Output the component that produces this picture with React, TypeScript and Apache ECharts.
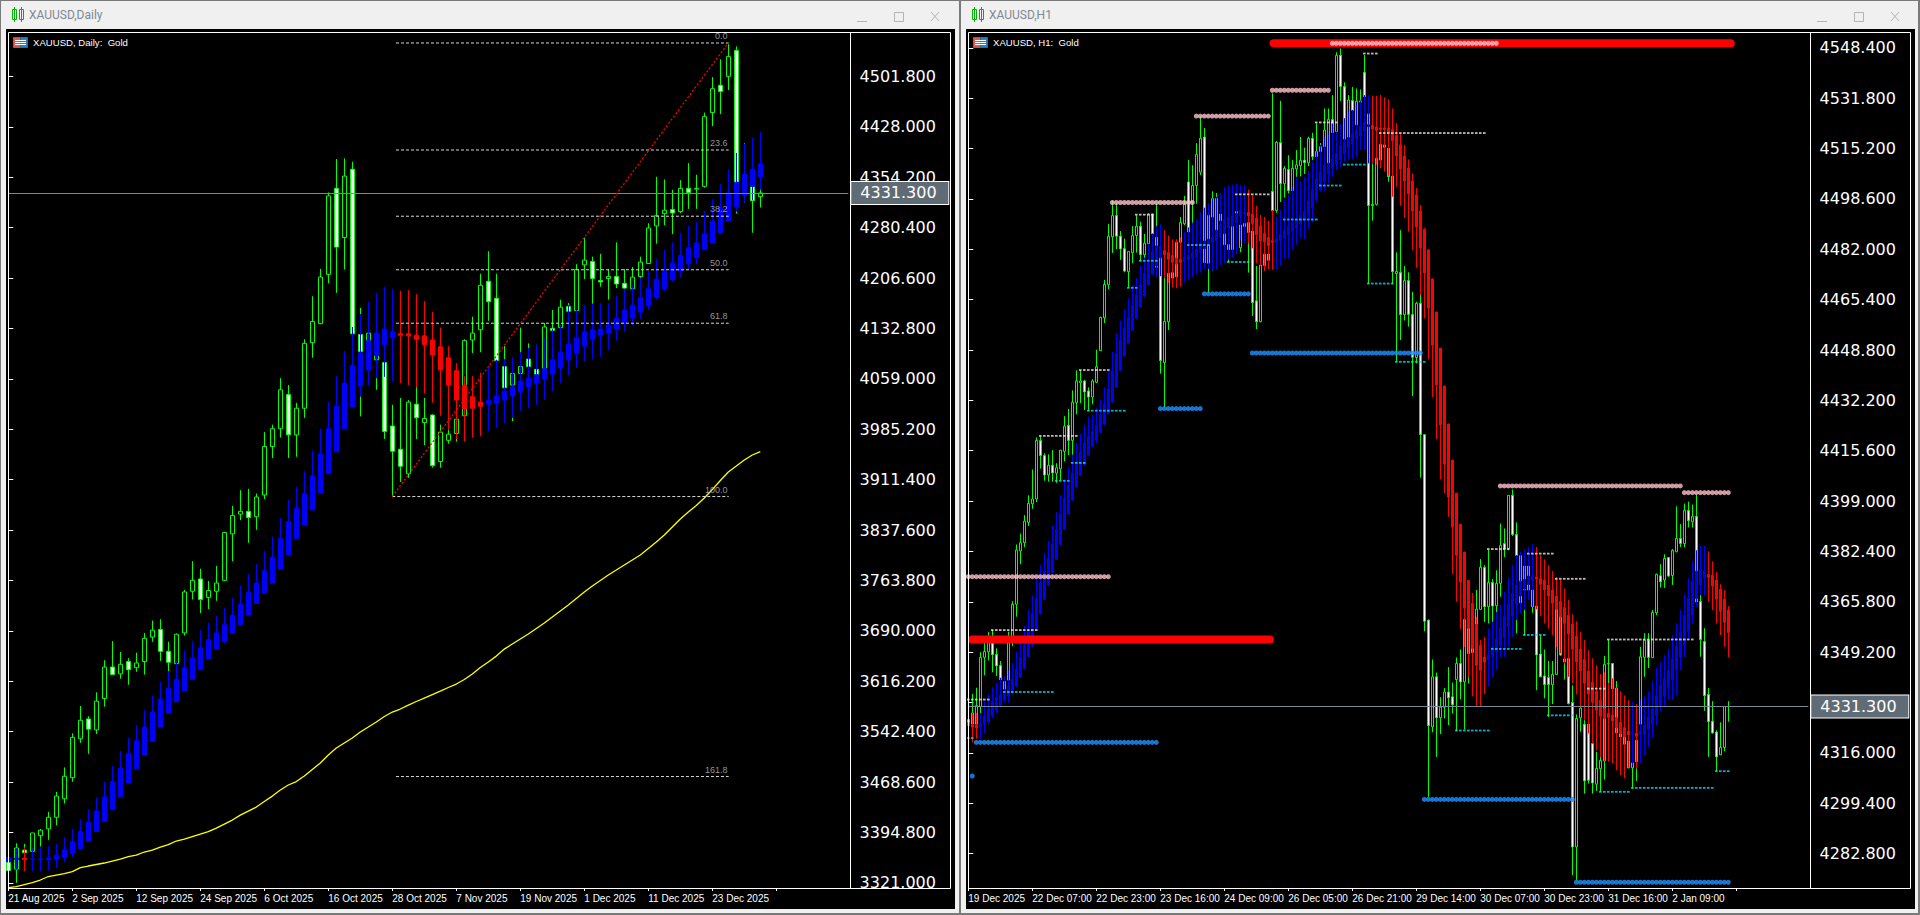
import React, { useEffect, useRef } from "react";
import * as echarts from "echarts";

// ---------- tick labels ----------
const dailyPriceTicks = [4501.8, 4428, 4354.2, 4280.4, 4206.6, 4132.8, 4059, 3985.2, 3911.4, 3837.6, 3763.8, 3690, 3616.2, 3542.4, 3468.6, 3394.8, 3321];
const hourlyPriceTicks = [4548.4, 4531.8, 4515.2, 4498.6, 4482, 4465.4, 4448.8, 4432.2, 4415.6, 4399, 4382.4, 4365.8, 4349.2, 4332.6, 4316, 4299.4, 4282.8];
const hourlyPriceLabels = [4548.4, 4531.8, 4515.2, 4498.6, 4482, 4465.4, 4448.8, 4432.2, 4415.6, 4399, 4382.4, 4365.8, 4349.2, 4316, 4299.4, 4282.8];
const dailyTimeLabels = ["21 Aug 2025", "2 Sep 2025", "12 Sep 2025", "24 Sep 2025", "6 Oct 2025", "16 Oct 2025", "28 Oct 2025", "7 Nov 2025", "19 Nov 2025", "1 Dec 2025", "11 Dec 2025", "23 Dec 2025"];
const hourlyTimeLabels = ["19 Dec 2025", "22 Dec 07:00", "22 Dec 23:00", "23 Dec 16:00", "24 Dec 09:00", "26 Dec 05:00", "26 Dec 21:00", "29 Dec 14:00", "30 Dec 07:00", "30 Dec 23:00", "31 Dec 16:00", "2 Jan 09:00"];
const lastPrice = 4331.3;

// ---------- daily: [open, high, low, close] ----------
const dailyCandles = [
[3351,3355,3339,3339],[3341,3379,3321,3372],[3369,3378,3364,3365],[3367,3394,3366,3394],[3390,3400,3374,3398],[3400,3425,3384,3417],[3417,3454,3405,3448],[3444,3490,3437,3477],[3475,3540,3469,3534],[3532,3580,3526,3559],
[3561,3565,3510,3546],[3545,3600,3539,3587],[3591,3647,3579,3637],[3637,3675,3626,3626],[3627,3659,3620,3641],[3645,3650,3611,3633],[3636,3658,3630,3643],[3645,3687,3626,3679],[3681,3705,3674,3691],[3692,3707,3646,3660],
[3660,3674,3631,3644],[3642,3686,3641,3685],[3687,3750,3683,3747],[3748,3792,3736,3764],[3766,3781,3716,3736],[3739,3763,3722,3749],[3748,3785,3734,3760],[3764,3835,3763,3834],[3832,3873,3792,3859],[3861,3896,3852,3865],
[3865,3898,3819,3856],[3857,3891,3838,3886],[3889,3981,3883,3960],[3960,3992,3943,3986],[3986,4060,3973,4043],[4036,4050,3943,3977],[3977,4024,3945,4016],[4016,4117,4002,4111],[4112,4180,4090,4143],[4140,4220,4139,4208],
[4212,4332,4199,4327],[4338,4381,4185,4252],[4266,4382,4219,4356],[4366,4377,4124,4125],[4124,4163,4004,4099],[4115,4127,4060,4126],[4087,4126,4043,4121],[4083,4084,3971,3982],[3990,4021,3887,3953],[3956,4031,3908,3931],
[3920,4028,3914,4025],[4022,4047,3971,4002],[3995,4031,3962,4001],[4006,4007,3929,3932],[3938,3992,3929,3981],[3969,3989,3964,3978],[3979,4014,3967,4000],[4005,4117,4005,4115],[4116,4150,4097,4126],[4131,4213,4098,4196],
[4202,4246,4144,4172],[4177,4213,4086,4086],[4077,4107,4046,4046],[4050,4087,3997,4067],[4067,4134,4048,4077],[4088,4111,4077,4077],[4073,4109,4065,4065],[4074,4141,4073,4135],[4133,4160,4116,4130],[4134,4175,4134,4164],
[4165,4170,4151,4158],[4159,4227,4159,4219],[4226,4266,4205,4233],[4231,4238,4169,4206],[4203,4242,4194,4201],[4206,4220,4175,4209],[4209,4259,4192,4198],[4199,4220,4179,4192],[4191,4223,4191,4208],[4209,4238,4199,4230],
[4228,4287,4228,4280],[4283,4355,4257,4298],[4301,4351,4284,4306],[4307,4336,4271,4302],[4304,4350,4302,4338],[4338,4375,4308,4332],[4337,4358,4308,4338],[4341,4449,4339,4443],[4449,4501,4429,4484],[4489,4527,4447,4480],
[4502,4549,4482,4531],[4540,4546,4301,4340],[4340,4404,4317,4345],[4341,4341,4273,4320],[4326,4340,4310,4331.3],
];
const dailyTrend = [
[3352,3362,3339,3358],[3355,3372,3340,3357],[3357,3373,3338,3355],[3355,3372,3338,3356],[3355,3374,3338,3356],[3355,3375,3339,3357],[3356,3378,3343,3361.5],[3358,3388,3351,3369],[3364,3400,3359,3381],[3371,3414,3371,3396],
[3382,3429,3382,3410],[3396,3446,3396,3426],[3411,3469,3411,3447],[3428,3492,3428,3469],[3447,3514,3447,3489],[3467,3533,3467,3510],[3488,3552,3488,3529],[3508,3574,3508,3549],[3528,3595,3528,3571],[3549,3615,3549,3590],
[3569,3631,3569,3606],[3586,3646,3586,3619],[3602,3661,3602,3636],[3619,3675,3619,3650],[3633,3691,3633,3665],[3649,3702,3649,3677],[3663,3712,3663,3687],[3674,3724,3672,3699],[3686,3738,3686,3713],[3699,3756,3699,3729],
[3713,3773,3713,3746],[3730,3788,3730,3760],[3745,3807,3745,3778],[3760,3828,3760,3798],[3780,3855,3780,3825],[3801,3882,3801,3850],[3825,3901,3825,3869],[3845,3924,3845,3891],[3867,3954,3867,3917],[3892,3986,3892,3949],
[3920,4025,3920,3986],[3952,4063,3952,4019],[3986,4100,3986,4053],[4018,4135,4018,4079],[4049,4154,4033,4097],[4072,4172,4049,4115],[4093,4185,4060,4126],[4109,4194,4062,4132],[4119,4191,4055,4128],[4125,4188,4053,4123],
[4125,4189,4050,4122],[4123,4183,4047,4117],[4122,4173,4038,4109],[4116,4157,4024,4094],[4106,4134,4005,4072],[4090,4107,3984,4050],[4071,4082,3971,4028],[4050,4063,3967,4015],[4033,4063,3973,4016],[4025,4068,3975,4019],
[4022,4075,3983,4028],[4023,4087,3987,4034],[4028,4088,3994,4041],[4034,4091,4002,4047],[4040,4098,4012,4056],[4047,4104,4016,4060],[4053,4109,4021,4065],[4059,4119,4028,4074],[4066,4132,4041,4087],[4075,4138,4053,4098],
[4087,4167,4064,4110],[4097,4160,4075,4119],[4107,4167,4084,4128],[4117,4169,4088,4131],[4123,4170,4091,4132],[4126,4170,4101,4138],[4132,4180,4115,4148],[4141,4191,4128,4160],[4148,4197,4138,4167],[4157,4207,4147,4178],
[4166,4217,4160,4191],[4178,4235,4175,4205],[4191,4248,4188,4217],[4204,4259,4201,4229],[4217,4273,4208,4240],[4228,4283,4220,4251],[4237,4289,4227,4258],[4248,4305,4248,4271],[4258,4322,4258,4290],[4273,4344,4273,4310],
[4290,4366,4290,4331],[4311,4390,4304,4347],[4328,4403,4317,4359],[4341,4412,4321,4366],[4355,4421,4336,4374],
];
const dailyMovingAverage = [3314.1,3315.5,3318.5,3321.4,3325.1,3330.2,3332.4,3334.6,3337.5,3343.3,3345.6,3347.8,3350,3352.9,3355.8,3359.5,3361.7,3366.1,3369,3373.4,3377,3382.2,3385.1,3388.8,3392.4,3396.1,3401.2,3407,3412.9,3420.2,3426.1,3431.9,3440,3448,3456.9,3464.2,3469.3,3477.4,3486.9,3496.4,3508.1,3518.4,3525.7,3533,3541.8,3549.1,3556.5,3564.5,3571.1,3575.5,3581.3,3586.5,3591.6,3596.7,3601.8,3607,3612.1,3618.7,3626.7,3636.2,3644.3,3653,3663.3,3670.7,3678,3685.3,3693.4,3701.4,3710.2,3719,3727.8,3737.3,3746.8,3755.6,3763.7,3771.7,3779,3786.4,3793.7,3801,3810.5,3820,3830.3,3842,3853.7,3864,3873.5,3884.5,3896.9,3910.1,3922.6,3931.3,3940.1,3947.5,3952.6];
const fibLevels: [string, number][] = [["0.0",4550.9],["23.6",4394.2],["38.2",4297.2],["50.0",4218.8],["61.8",4140.5],["100.0",3886.7],["161.8",3476.6]];

// ---------- hourly: [open, high, low, close] ----------
const hourlyCandles = [
[4325.5,4328,4321,4327],[4325.5,4335.5,4324.3,4329.2],[4325.5,4337.5,4324.9,4331.6],[4331.3,4349.2,4328.6,4347.5],[4347.5,4352.4,4341.6,4349.4],[4349.3,4355.8,4346.5,4354.2],[4352.4,4356.6,4342.6,4348.4],[4348.5,4350.5,4341.4,4344.7],[4344.8,4346.3,4337.7,4340.2],[4337,4340.2,4335.3,4339.6],
[4340,4356,4337.7,4352.4],[4352.4,4366,4351.2,4365],[4365,4384.7,4360.9,4382.9],[4382.6,4388.3,4378.2,4385.3],[4385.3,4394.4,4383.8,4392.4],[4392,4400.9,4390.8,4398.2],[4398.1,4409.4,4396.5,4399.7],[4399.7,4420,4398.7,4419],[4419,4420.3,4409.7,4414],[4414,4414.8,4405.7,4407.6],
[4407.6,4414.4,4405.4,4410.8],[4410.8,4415.8,4405.4,4408.3],[4408.2,4411.5,4405,4410],[4409.6,4415.8,4405.8,4415.8],[4415.4,4427,4412.1,4423.7],[4424,4429.4,4414.2,4419],[4419,4435.5,4414,4431.6],[4431.4,4442.1,4427.6,4438.6],[4438,4442.1,4431.3,4438.6],[4438.6,4439,4429,4435],
[4435.3,4436.5,4428.7,4433.3],[4433.3,4439.2,4430.9,4438.6],[4438.2,4448.9,4437.9,4443.3],[4448.6,4459.7,4448.5,4459.6],[4459.4,4471.9,4457.7,4470.4],[4470.3,4490.4,4468.8,4486.3],[4486.1,4498.1,4480.8,4493.1],[4493.1,4497.2,4482,4486.3],[4486.3,4488,4478.5,4482.1],[4482.2,4485.5,4474.4,4474.8],
[4474.6,4481.3,4469.2,4481.3],[4480.9,4489.6,4477.4,4486.5],[4486.5,4493.2,4480.9,4489.6],[4489.6,4491.1,4478,4480.2],[4480.2,4487.1,4476.5,4484],[4483.8,4493.8,4480.7,4493.6],[4493.6,4493.8,4487,4487.1],[4476.1,4496.9,4472.9,4485.9],[4479.2,4479.3,4441,4445.3],[4444.6,4474.3,4429.8,4458.2],
[4458.1,4474.2,4455.4,4474.1],[4472.5,4475,4472,4474.3],[4472.9,4484.4,4472.8,4484.3],[4484.3,4492.6,4484,4490.8],[4490.4,4499.6,4490,4496.9],[4504.2,4511.5,4487,4487.7],[4497.5,4509.7,4490.4,4503],[4503,4517,4497,4513.2],[4507.4,4525.7,4506.5,4518.6],[4519,4522,4477,4477.6],
[4477.4,4494,4467.6,4493.2],[4492.6,4501.1,4474.9,4498.7],[4498.7,4500.5,4488.2,4488.3],[4491.4,4495,4487.7,4493.6],[4488.3,4493.6,4483.1,4483.5],[4483.5,4492.6,4477.7,4481.9],[4481.9,4492.6,4481.6,4492],[4491.4,4497.5,4490.2,4494.4],[4482.5,4495,4481,4490],[4489.5,4494,4487,4490.5],
[4487.5,4490.8,4474.3,4490.8],[4488,4488.1,4460,4464.4],[4465,4476.5,4455.7,4458.1],[4458.1,4477,4458,4476.8],[4476.6,4480.5,4475,4480.4],[4480.4,4480.6,4478,4478.4],[4501.1,4533.4,4493.8,4494.7],[4494.8,4517.7,4494,4517.3],[4517.2,4530.9,4497.6,4503.6],[4503.6,4509.4,4499,4508.7],
[4508.3,4513,4500.4,4501.3],[4501.3,4511.4,4501,4508.7],[4508.5,4514.7,4505,4509.8],[4509.5,4519,4506,4511.3],[4511.4,4515.5,4506.8,4510.5],[4510.5,4519.1,4509.4,4518.6],[4518.6,4520.4,4511.4,4512.5],[4512.5,4523.5,4512,4514.2],[4514.2,4517,4510.3,4515.8],[4515.8,4528.4,4515.3,4521.3],
[4510.3,4528.4,4510,4524.8],[4524.8,4532.8,4519.4,4520.5],[4520.8,4546.9,4520.1,4545.9],[4545.9,4548.2,4530.9,4535.6],[4535.6,4537,4518.2,4518.3],[4518.3,4532.8,4518,4531.2],[4531,4535.5,4523,4527.8],[4523,4535,4523,4530.8],[4530.5,4534.7,4523,4530.9],[4540.3,4546,4526.2,4532.3],
[4526.6,4526.7,4470.5,4496.4],[4496.4,4510.3,4491.4,4496.8],[4496.8,4512,4496.4,4512],[4511.4,4516.7,4508.7,4516.6],[4515.6,4516.5,4515,4516.4],[4515.3,4515.4,4504.3,4505.9],[4506.1,4506.2,4470.5,4474.6],[4474,4481,4445,4474.7],[4474.4,4488.3,4452.1,4460.4],[4460.4,4476.5,4458.5,4471.7],
[4471.7,4474.4,4456.5,4460.5],[4460.5,4468,4433.6,4446.4],[4446.3,4464.7,4444.4,4464.2],[4464.2,4467.5,4406.7,4420.9],[4420.9,4421,4356.1,4359.4],[4359.8,4359.9,4301.5,4325],[4324.6,4346.8,4322.8,4341.1],[4341.1,4342.5,4314.7,4327.6],[4327.6,4334.4,4322.2,4331.1],[4331.1,4337.4,4327.4,4336.1],
[4336.1,4344.3,4325.2,4334.2],[4334.5,4339.2,4329,4331.9],[4340.2,4347.5,4323.2,4345.5],[4345.5,4350.1,4333.7,4339.4],[4339.4,4360.1,4323.7,4360],[4360,4368.6,4338.9,4348.8],[4349,4368.6,4340,4357],[4358.4,4369.7,4357.6,4363.4],[4363.3,4379.9,4363.1,4377.2],[4377.1,4377.9,4359.2,4364.2],
[4364.2,4383,4358.7,4372.2],[4372.2,4373.3,4359.2,4364.4],[4364.5,4376.2,4359.8,4371.9],[4371.9,4391.6,4367.5,4384.4],[4385,4390,4380.6,4383.2],[4383.4,4401,4382.8,4400.9],[4400.9,4402.8,4387.5,4388],[4388,4392,4355.4,4381.1],[4381,4381.1,4365,4365.5],[4369.7,4378,4354.8,4377.6],
[4377.6,4378,4369,4369.7],[4369.7,4370,4362.2,4364.2],[4364.4,4364.5,4336.7,4348.3],[4348.6,4354.8,4341,4341.1],[4341.4,4350.1,4334,4338.5],[4340.9,4346.3,4327.9,4338.5],[4338.5,4346.3,4332.1,4341.9],[4341.9,4364.2,4341.8,4363.6],[4362,4362.1,4348,4348.3],[4346,4348,4340.2,4347],
[4347.1,4347.5,4332,4332.3],[4332.6,4338.3,4275.7,4285],[4285,4328.7,4274,4327.4],[4327.6,4331,4323,4330.8],[4325.5,4331.2,4302.6,4306.8],[4325.5,4325.6,4305.9,4307],[4319.1,4321.3,4302.6,4306.1],[4305.7,4316.4,4303.5,4310.9],[4310.8,4314.7,4303.2,4313.5],[4313.4,4348,4307.2,4345.2],
[4345.3,4353.2,4338.9,4345.5],[4345.5,4345.6,4335.6,4337.2],[4337.4,4339.7,4321.3,4322.6],[4322.4,4322.6,4321,4321.3],[4321.3,4321.4,4318.8,4318.9],[4311.1,4320,4311,4319.9],[4311.1,4320.2,4304.3,4312.7],[4313.1,4320.3,4306.8,4320.2],[4325.5,4351,4325.2,4347.7],[4347.5,4355.5,4341.1,4353.2],
[4353.2,4355.5,4344,4347.5],[4347.4,4363.1,4347.3,4362.3],[4362.2,4375.1,4361.4,4374.9],[4374.4,4378.2,4370.5,4372.4],[4373,4381.5,4370.4,4380.1],[4380.4,4380.5,4374,4374.3],[4374.5,4383.2,4371.4,4382.8],[4382.3,4397.3,4382.2,4386.7],[4386.7,4391.4,4383.9,4385],[4385,4398.2,4383.7,4396],
[4396,4398.8,4390.3,4392.5],[4392.2,4397.9,4390.3,4394],[4394,4401,4365,4365.8],[4365.9,4369.1,4347.7,4353.4],[4352.7,4357.1,4329.9,4334.9],[4335.3,4337.4,4314.7,4326.3],[4326.4,4333.1,4322.4,4322.6],[4322.9,4323.5,4310,4314.7],[4315.4,4326.1,4315.3,4317.8],[4317.8,4331.3,4316.6,4331.3],
[4331.2,4333.1,4326.3,4331.3],
];
const hourlyTrend = [
[4326,4331,4321,4325],[4325.4,4329.2,4319.4,4324.5],[4325.2,4329.2,4320.7,4324.2],[4324.3,4329.2,4320.7,4325.8],[4325.3,4332.9,4322.5,4328.2],[4326.3,4335.3,4325.5,4330.7],[4328.2,4337.7,4327.4,4332.9],[4330.2,4339.2,4329.2,4334.3],[4331.6,4340.8,4331,4335.3],[4333.5,4341.2,4332.6,4336.8],
[4334.7,4343.2,4332.6,4338],[4336,4345.7,4335.3,4340.4],[4338,4349.3,4337.7,4343.6],[4340.9,4353.6,4340.9,4347.5],[4343.8,4357.9,4343.8,4351.8],[4347.8,4363.1,4347.8,4356],[4351.2,4368,4351.2,4361.9],[4357,4373.1,4357,4367],[4361.8,4378,4361.8,4371.9],[4366.6,4381.9,4366.6,4375.8],
[4371.3,4385.9,4371.3,4380.2],[4375.5,4390.8,4375.5,4384.8],[4379.8,4395.3,4379.8,4389.6],[4384.7,4400.9,4384.7,4394.7],[4389.8,4406,4389.8,4399.9],[4394.7,4410.3,4394.7,4404.2],[4399.3,4414.3,4399.3,4408.2],[4403.6,4418,4403.6,4412.1],[4407.5,4421.3,4407.5,4415.2],[4410.9,4424.1,4410.9,4418.2],
[4414.1,4426.8,4414.1,4420.4],[4417,4427.4,4417,4421.9],[4419.2,4429.8,4418,4424.1],[4421.6,4432.6,4421.6,4427.4],[4424.3,4436.5,4424.3,4431],[4427.7,4442,4427.7,4435.9],[4431.6,4448.1,4431.6,4442],[4436.5,4454.2,4436.5,4447.5],[4442,4458.5,4442,4452],[4446.8,4462.1,4446.8,4456],
[4451,4465.8,4451,4459.7],[4455.3,4470,4455.3,4463.3],[4459.2,4472.5,4459.2,4467],[4462.9,4476.5,4462.9,4470.4],[4466.5,4479.2,4466.5,4474.1],[4470.2,4483.8,4470.2,4477.7],[4473.8,4487.1,4473.8,4481],[4476.5,4489.6,4472.9,4483.1],[4479.2,4490.2,4473.1,4483.1],[4481.6,4488.3,4472.5,4480.2],
[4481,4486.5,4470.9,4478.7],[4480,4485.3,4469.4,4477.7],[4479.1,4485.3,4469.1,4477.1],[4478.6,4485.9,4469.7,4477.7],[4478,4487.7,4471,4479.4],[4478.5,4489.2,4471.9,4480],[4479,4490.8,4472.9,4480.8],[4479.4,4492,4473.7,4482],[4481,4494.1,4474.3,4484.1],[4482.2,4495.7,4475.5,4484.7],
[4483.5,4497.2,4475.5,4485.3],[4484.3,4498.7,4474.9,4485.9],[4484.7,4499.3,4475.5,4488.3],[4485.9,4500.5,4476.8,4490.2],[4487.1,4502.4,4477.4,4492],[4489,4503,4478.6,4492.6],[4489.6,4503.3,4479.2,4493.2],[4490.8,4503.6,4480.4,4493.8],[4492.7,4503.2,4485,4494.9],[4493.6,4503.2,4484,4494.1],
[4494.1,4501.7,4484,4493],[4493.6,4499.7,4482.3,4490.5],[4492.3,4496.3,4477.4,4486.7],[4489.7,4493.3,4476.5,4484.7],[4487.2,4492.7,4474.9,4484.4],[4485.9,4491.4,4475.4,4483.1],[4484.8,4494.9,4475.2,4484.2],[4484.2,4492.7,4475.4,4485.4],[4484.8,4494.9,4476.5,4487],[4485.6,4498.2,4478.9,4488.3],
[4486.7,4499.9,4478.9,4489.7],[4487.9,4502.6,4482,4490.8],[4488.9,4505.9,4483.6,4491.6],[4490.3,4504.3,4485.6,4493.3],[4491.6,4505.9,4485.3,4494.6],[4493.2,4507.8,4488.7,4498],[4495.7,4510.9,4490.9,4501.7],[4498.4,4514.2,4497.4,4505.2],[4501.5,4516.4,4501,4507.6],[4504.2,4518.9,4501.3,4509.8],
[4506.9,4520,4503.7,4510.3],[4508.6,4523.5,4505.9,4511.8],[4510.1,4520.8,4508.1,4513.6],[4511.4,4523.3,4509,4516],[4513.4,4525.2,4510.9,4517.5],[4515.5,4527.3,4511.4,4518.8],[4516.7,4527.9,4511.6,4520.2],[4518.5,4530.3,4512.3,4521.3],[4519.3,4531,4514.7,4522.6],[4520.9,4532.8,4514.7,4524],
[4522.4,4532.8,4510.3,4523],[4522.8,4532.6,4510.3,4521.6],[4522.3,4532.6,4509.9,4521.2],[4522,4532.8,4508.9,4521.5],[4522,4532.1,4507.6,4521.5],[4522,4531.4,4506.2,4520.4],[4521.5,4528.4,4499.3,4517.7],[4519.5,4523.5,4502.6,4512.7],[4516.4,4520.2,4496.3,4508.4],[4512.7,4516.4,4492.3,4504.5],
[4508.8,4511.6,4487.8,4500.2],[4504.5,4507,4481.7,4494.6],[4499.9,4502.2,4475.9,4489.3],[4494.6,4496.6,4466.9,4482.4],[4488.6,4489,4459.2,4474.2],[4481.8,4481.9,4445.8,4462.6],[4472.2,4472.3,4433.3,4450.4],[4461.3,4461.4,4419.5,4437.3],[4449.4,4449.5,4406.2,4424.1],[4436.9,4437,4401.5,4411.2],
[4424.4,4424.5,4393.8,4400.3],[4412.5,4412.6,4374.9,4390.4],[4401.6,4401.7,4365.8,4381.2],[4391.4,4391.5,4356.8,4372.3],[4382.2,4382.3,4351,4363.7],[4372.9,4373,4341.1,4357.1],[4365.3,4368.6,4334.7,4350.5],[4358.1,4360.9,4331.2,4344.9],[4351.5,4353.2,4331.4,4343.3],[4347.6,4354.3,4335.4,4345.9],
[4346.6,4357,4338,4348.6],[4347.7,4359.2,4340.9,4351],[4349.2,4362.4,4343.5,4353.7],[4351.2,4364.7,4347.5,4357.2],[4354.1,4369.1,4347.7,4360.9],[4357.6,4373.8,4351,4365],[4361.1,4377.9,4354.3,4368.6],[4364.7,4381.2,4359.8,4371.3],[4367.7,4382.3,4362,4372.6],[4370,4383.2,4363.1,4373.2],
[4371.5,4383.9,4366.4,4374.3],[4372.7,4384.8,4364.2,4374.4],[4374,4383.9,4363.3,4373.3],[4373.5,4381.2,4361.1,4371.6],[4373,4379.8,4358.7,4369.7],[4371.3,4377.9,4357,4367.7],[4369.7,4376,4354.8,4365.3],[4367.7,4374,4351,4363.3],[4365.9,4373.2,4348.8,4360.9],[4363.9,4370.2,4345.5,4358.7],
[4361.4,4366.4,4341.1,4355.2],[4358.4,4361.7,4338.9,4350.2],[4354.5,4359.4,4335.3,4346],[4350.2,4356,4331.2,4343],[4346.8,4353.2,4326.8,4339],[4343,4349.9,4322.4,4335.4],[4339.3,4347.2,4319.1,4332.7],[4336.4,4344.9,4316.9,4330.1],[4333.4,4342,4314.7,4328.1],[4330.6,4342.6,4313.4,4327.4],
[4329,4338.9,4313.1,4327.7],[4328.5,4340.6,4312.5,4326.5],[4327.7,4337.5,4310.3,4324.3],[4326.1,4336.4,4308.7,4322.4],[4324.4,4335,4307.6,4321.3],[4323.2,4333.4,4311.4,4321.9],[4322.2,4332.8,4312,4322.8],[4322.5,4332.1,4310.9,4321.5],[4321.9,4333.4,4312.5,4323.2],[4322.2,4334.7,4315.2,4325.2],
[4323.7,4336.4,4318,4327.9],[4325.7,4339.7,4321,4330.6],[4328.3,4344,4325,4334.9],[4331.7,4345.9,4329.8,4338.3],[4334.7,4348.2,4331.4,4340.6],[4337.6,4350.2,4333.4,4343.3],[4340.2,4354.8,4333.4,4346.9],[4343.5,4358.7,4335,4351.2],[4347.5,4363.1,4343.3,4355.8],[4351.5,4368.3,4347.7,4361.4],
[4356.1,4373.6,4353.2,4367],[4361.4,4379.2,4358.7,4372.6],[4366.9,4382.8,4364.2,4375.9],[4371.3,4384.2,4368,4376.5],[4373.6,4384.2,4368,4376.2],[4374.8,4382.5,4365.8,4373.9],[4374.6,4379.2,4363.1,4371],[4373,4375.6,4358.7,4366.7],[4370,4371.6,4354.8,4362.7],[4366.7,4369.7,4351,4359.1],
[4363.1,4364.4,4347.6,4355.6],
];

// ---------- hourly levels: [first bar, last bar, price] ----------
const supplyBands = [[1, 75.4, 4353.4], [76.3, 190.6, 4549.9]];
const resistanceMajor = [[0,35,4374.1],[36,56,4497.4],[57,75,4525.9],[76,90,4534.4],[91,132,4549.9],[133,178,4404],[179,190,4401.8]];
const supportMajor = [[1,1,4308.4],[2,47,4319.5],[48,58,4429.5],[59,70,4467.3],[71,113,4447.8],[114,151,4300.7],[152,190,4273.4]];
const resistanceMinor = [[0,5,4333.6],[6,17,4356.5],[18,27,4420.5],[28,35,4442.2],[42,46,4493.4],[67,75,4500.1],[87,92,4523.8],[99,102,4546.5],[103,129,4520.3],[130,135,4383.2],[140,146,4381.7],[147,154,4373.4],[155,159,4337.2],[160,181,4353.4]];
const supportMinor = [[0,1,4320.9],[9,21,4336.1],[22,25,4405.7],[26,29,4411.6],[30,39,4428.8],[40,42,4469.3],[43,47,4478.2],[55,60,4483.4],[65,70,4477.8],[79,87,4491.8],[88,93,4503],[94,99,4509.9],[100,106,4470.7],[107,114,4444.9],[122,130,4323.4],[131,138,4350.3],[139,144,4354.9],[145,151,4328.4],[158,165,4303.2],[166,186,4304.5],[187,190,4310]];

const FONT_AXIS = "'DejaVu Sans'";
const FONT_SMALL = "'Liberation Sans'";

const toEchartsOHLC = (rows: number[][]) => rows.map(([o, h, l, c]) => [o, c, l, h]);
const spread = (levels: number[][]) =>
  levels.flatMap(([a, b, p]) => {
    const pts: number[][] = [];
    for (let j = a; j <= b; j++) pts.push([j, p]);
    return pts;
  });

function windowChrome(x0: number, title: string, legend: string) {
  const button = "#b4b4b4";
  return {
    type: "group",
    x: x0,
    y: 0,
    silent: true,
    children: [
      { type: "rect", z: -2, shape: { x: 6, y: 29, width: 949, height: 880 }, style: { fill: "#000" } },
      // icon of the title bar
      { type: "rect", z: -1, shape: { x: 12.5, y: 9.5, width: 4, height: 10 }, style: { fill: "none", stroke: "#00b400" } },
      { type: "line", z: -1, shape: { x1: 14.5, y1: 7, x2: 14.5, y2: 22 }, style: { stroke: "#00b400" } },
      { type: "rect", z: -1, shape: { x: 19.5, y: 9.5, width: 4, height: 10 }, style: { fill: "none", stroke: "#00b400" } },
      { type: "line", z: -1, shape: { x1: 21.5, y1: 7, x2: 21.5, y2: 22 }, style: { stroke: "#00b400" } },
      { type: "text", z: -1, x: 29, y: 15, style: { text: title, fill: "#7f8993", font: "12px Roboto", textVerticalAlign: "middle" } },
      { type: "line", z: -1, shape: { x1: 857, y1: 21.5, x2: 867, y2: 21.5 }, style: { stroke: button } },
      { type: "rect", z: -1, shape: { x: 894.5, y: 12.5, width: 9, height: 9 }, style: { fill: "none", stroke: button } },
      { type: "line", z: -1, shape: { x1: 931, y1: 12, x2: 939, y2: 21 }, style: { stroke: button } },
      { type: "line", z: -1, shape: { x1: 939, y1: 12, x2: 931, y2: 21 }, style: { stroke: button } },
      // legend flag and text
      { type: "rect", z: 20, shape: { x: 13.5, y: 37.5, width: 7, height: 10 }, style: { fill: "#e2574c", stroke: "#d9463a" } },
      { type: "rect", z: 20, shape: { x: 20.5, y: 37.5, width: 7, height: 10 }, style: { fill: "#2f7fc1", stroke: "#1f6aa8" } },
      { type: "line", z: 21, shape: { x1: 15, y1: 40.5, x2: 26, y2: 40.5 }, style: { stroke: "#fff" } },
      { type: "line", z: 21, shape: { x1: 15, y1: 42.5, x2: 26, y2: 42.5 }, style: { stroke: "#fff" } },
      { type: "line", z: 21, shape: { x1: 15, y1: 44.5, x2: 26, y2: 44.5 }, style: { stroke: "#fff" } },
      { type: "text", z: 20, x: 33, y: 42.5, style: { text: legend, fill: "#fff", font: `9.6px ${FONT_SMALL}`, textVerticalAlign: "middle" } },
      // frame of the chart
      { type: "rect", z: 30, shape: { x: 851, y: 889, width: 100, height: 19 }, style: { fill: "#000" } },
      { type: "rect", z: 31, shape: { x: 8.5, y: 32.5, width: 942, height: 856 }, style: { fill: "none", stroke: "#fff", lineWidth: 1 } },
      { type: "line", z: 31, shape: { x1: 850.5, y1: 32, x2: 850.5, y2: 888 }, style: { stroke: "#fff", lineWidth: 1 } },
    ],
  };
}

function axisSet(gridIndex: number, labels: string[], count: number, every: number, ticks: number[], priceLabels: number[], min: number, max: number, hiddenMax: number) {
  const names = Array.from({ length: count }, (_, i) => (i % every === 0 ? labels[i / every] ?? "" : ""));
  return {
    x: [
      {
        type: "category", gridIndex, data: names, boundaryGap: false, position: "bottom",
        axisLine: { show: false },
        axisTick: { show: true, length: 3, interval: every - 1, lineStyle: { color: "#fff" } },
        axisLabel: { interval: every - 1, align: "left", margin: 5, color: "#fff", fontFamily: FONT_SMALL, fontSize: 10, showMaxLabel: false, showMinLabel: true },
        splitLine: { show: false },
      },
      { type: "value", gridIndex, min: 0, max: hiddenMax, show: false, splitLine: { show: false } },
    ],
    y: {
      type: "value", gridIndex, position: "right", offset: 2.3, min, max, scale: true,
      axisLine: { show: false },
      axisTick: { show: true, length: 5, customValues: ticks, lineStyle: { color: "#fff" } },
      axisLabel: { margin: 9, color: "#fff", fontFamily: FONT_AXIS, fontSize: 16, customValues: priceLabels, formatter: (v: number) => v.toFixed(3), hideOverlap: false },
      splitLine: { show: false },
    },
  };
}

function priceLine(xAxisIndex: number, yAxisIndex: number) {
  return {
    type: "line", xAxisIndex, yAxisIndex, data: [], z: 8, silent: true,
    markLine: {
      silent: true, symbol: ["none", "none"], animation: false,
      lineStyle: { color: "#778899", width: 1, type: "solid" },
      data: [{ yAxis: lastPrice }],
      label: {
        show: true, position: "end", distance: 3, formatter: lastPrice.toFixed(3),
        color: "#fff", fontFamily: FONT_AXIS, fontSize: 16,
        backgroundColor: "#5f6b75", borderColor: "#ffffff", borderWidth: 1,
        padding: [3, 0, 3, 9], width: 88, height: 16, lineHeight: 16,
      },
    },
  };
}

function candleSeries(xAxisIndex: number, yAxisIndex: number, rows: number[][], barWidth: number) {
  return {
    type: "candlestick", xAxisIndex, yAxisIndex, data: toEchartsOHLC(rows), barWidth, z: 2, silent: true,
    itemStyle: { color: "#000", color0: "#fff", borderColor: "#00ff00", borderColor0: "#00ff00", borderWidth: 1 },
  };
}
function trendSeries(xAxisIndex: number, yAxisIndex: number, rows: number[][], barWidth: number) {
  return {
    type: "candlestick", xAxisIndex, yAxisIndex, data: toEchartsOHLC(rows), barWidth, z: 3, silent: true,
    itemStyle: { color: "#0000ff", color0: "#ff0000", borderColor: "#0000ff", borderColor0: "#ff0000", borderWidth: 1 },
  };
}
function dots(xAxisIndex: number, yAxisIndex: number, levels: number[][], color: string, symbol: string, symbolSize: any) {
  return { type: "scatter", xAxisIndex, yAxisIndex, data: spread(levels), symbol, symbolSize, z: 6, silent: true, itemStyle: { color } };
}

export default function App() {
  const ref = useRef<HTMLDivElement>(null);
  useEffect(() => {
    document.body.style.margin = "0";
    document.body.style.background = "#f0f0f0";
    const chart = echarts.init(ref.current!, undefined, { renderer: "svg" });
    const left = axisSet(0, dailyTimeLabels, 106, 8, dailyPriceTicks, dailyPriceTicks, 3313.4, 4567, 105);
    const right = axisSet(1, hourlyTimeLabels, 211, 16, hourlyPriceTicks, hourlyPriceLabels, 4271.5, 4553.6, 210);

    const fibStart = 48.46, fibEnd = 90.05;
    const fibSeries = fibLevels.map(([name, price]) => ({
      type: "line", xAxisIndex: 1, yAxisIndex: 0, z: 5, silent: true, symbol: "none",
      data: [[price === fibLevels[5][1] ? 48 : fibStart, price], [fibEnd, price]],
      lineStyle: { color: "#d9d9d9", width: 1, type: [3, 2] },
    }));
    const fibText = {
      type: "scatter", xAxisIndex: 1, yAxisIndex: 0, z: 5, silent: true, symbolSize: 0,
      data: fibLevels.map(([name, price]) => ({
        value: [fibEnd - 0.15, price],
        label: { show: true, position: "left", distance: 0, offset: [0, -7], formatter: name, color: "#bdbdbd", fontFamily: FONT_SMALL, fontSize: 9 },
      })),
    };

    chart.setOption({
      animation: false,
      backgroundColor: "#f0f0f0",
      tooltip: { show: false },
      grid: [
        { left: 8.3, top: 32, width: 840, height: 856 },
        { left: 968.3, top: 32, width: 840, height: 856 },
      ],
      xAxis: [...left.x, ...right.x],
      yAxis: [left.y, right.y],
      graphic: [
        { type: "rect", z: -3, silent: true, shape: { x: 0, y: 0, width: 1920, height: 1 }, style: { fill: "#7a7a7a" } },
        { type: "rect", z: -3, silent: true, shape: { x: 0, y: 913, width: 1920, height: 2 }, style: { fill: "#7a7a7a" } },
        { type: "rect", z: -3, silent: true, shape: { x: 0, y: 0, width: 1, height: 915 }, style: { fill: "#7a7a7a" } },
        { type: "rect", z: -3, silent: true, shape: { x: 959, y: 0, width: 2, height: 915 }, style: { fill: "#7a7a7a" } },
        { type: "rect", z: -3, silent: true, shape: { x: 1918, y: 0, width: 2, height: 915 }, style: { fill: "#7a7a7a" } },
        windowChrome(0, "XAUUSD,Daily", "XAUUSD, Daily:  Gold"),
        windowChrome(960, "XAUUSD,H1", "XAUUSD, H1:  Gold"),
      ],
      series: [
        candleSeries(0, 0, dailyCandles, 4),
        trendSeries(0, 0, dailyTrend, 4),
        { type: "line", xAxisIndex: 0, yAxisIndex: 0, data: dailyMovingAverage, symbol: "none", z: 4, silent: true, lineStyle: { color: "#ffff00", width: 1.3 } },
        ...fibSeries,
        fibText,
        {
          type: "line", xAxisIndex: 1, yAxisIndex: 0, z: 5, silent: true, symbol: "none",
          data: [[48, fibLevels[5][1]], [90, fibLevels[0][1]]],
          lineStyle: { color: "#ff0000", width: 1.3, type: [2, 2] },
        },
        priceLine(0, 0),

        candleSeries(2, 1, hourlyCandles, 2),
        trendSeries(2, 1, hourlyTrend, 2),
        ...supplyBands.map(([a, b, p]) => ({
          type: "line", xAxisIndex: 3, yAxisIndex: 1, z: 5, silent: true, symbol: "none",
          data: [[a, p], [b, p]],
          lineStyle: { color: "#ff0000", width: 8, cap: "round" },
        })),
        dots(3, 1, resistanceMajor, "#ffc0cb", "circle", 5),
        dots(3, 1, supportMajor, "#1e90ff", "circle", 5),
        dots(3, 1, resistanceMinor, "#f5e4e4", "rect", [2.6, 1.8]),
        dots(3, 1, supportMinor, "#00e0ff", "rect", [2.6, 1.8]),
        priceLine(2, 1),
      ],
    });
    return () => chart.dispose();
  }, []);
  return <div ref={ref} style={{ width: 1920, height: 915, position: "absolute", left: 0, top: 0 }} />;
}
